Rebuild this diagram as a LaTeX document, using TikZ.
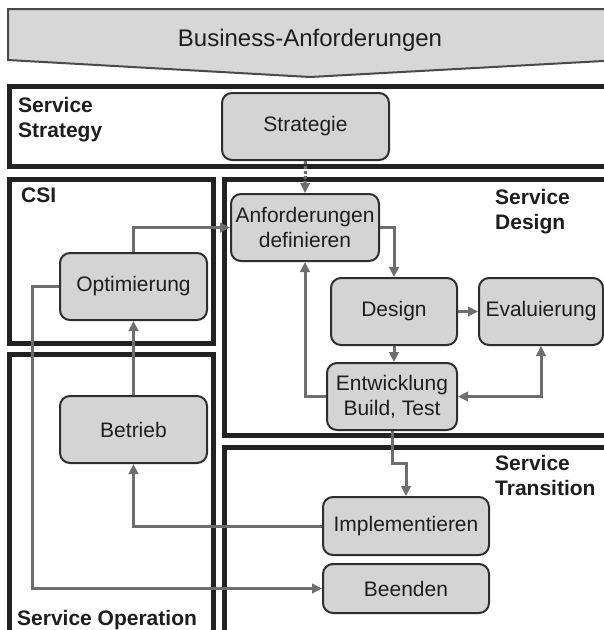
\documentclass[tikz,border=0pt]{standalone}
\usepackage{fontspec}
\setmainfont{Liberation Sans}
\usetikzlibrary{arrows.meta}
\definecolor{nodefill}{HTML}{D4D4D4}
\definecolor{nodeline}{HTML}{2E2E2E}
\definecolor{boxline}{HTML}{222222}
\definecolor{conn}{HTML}{6E6E6E}
\definecolor{txt}{HTML}{1E1E1E}
\definecolor{banfill}{HTML}{D7D7D7}
\definecolor{banline}{HTML}{4A4A4A}
\tikzset{
  proc/.style={draw=nodeline, fill=nodefill, line width=2pt, rounded corners=10pt,
    inner sep=0pt, align=center, text=txt,
    font=\fontsize{21}{25}\selectfont},
  area/.style={draw=boxline, line width=4.5pt},
  arealabel/.style={anchor=base west, inner sep=0pt, align=left, text=txt,
    font=\fontsize{21}{25}\selectfont\bfseries},
  flow/.style={draw=conn, line width=3pt, -{Triangle[length=10pt,width=9.5pt]}},
}
\begin{document}
\begin{tikzpicture}[x=1pt,y=-1pt]
\useasboundingbox (0,0) rectangle (604,630);
\clip (0,0) rectangle (604,630);
% banner
\path[fill=banfill, draw=banline, line width=2pt] (8,9) -- (640,9) -- (640,59) -- (310,77) -- (8,60) -- cycle;
\node[text=txt, font=\fontsize{24}{28}\selectfont] (banner) at (310,40) {Business-Anforderungen};
% areas
\draw[area] (9.5,86.5) rectangle (640,166.5);
\draw[area] (9.5,179.5) rectangle (213.5,343.5);
\draw[area] (224.5,179.5) rectangle (640,435.5);
\draw[area] (9.5,354.5) rectangle (213.5,660);
\draw[area] (224.5,447.5) rectangle (640,660);
\node[arealabel] (lstrat) at (18,137) {Service\\Strategy};
\node[arealabel] (lcsi) at (21,202) {CSI};
\node[arealabel] (ldes) at (495,229) {Service\\Design};
\node[arealabel] (ltra) at (495,495) {Service\\Transition};
\node[arealabel] (lop) at (17,625) {Service Operation};
% process nodes
\node[proc, minimum width=167pt, minimum height=67pt] (strat) at (305.5,126.5) {Strategie};
\node[proc, minimum width=148pt, minimum height=67pt] (anf) at (305,227.5) {Anforderungen\\definieren};
\node[proc, minimum width=147pt, minimum height=67pt] (opt) at (133.5,286.5) {Optimierung};
\node[proc, minimum width=126pt, minimum height=67pt] (design) at (394,311.5) {Design};
\node[proc, minimum width=124pt, minimum height=67pt] (eval) at (541,311.5) {Evaluierung};
\node[proc, minimum width=130pt, minimum height=67pt] (entw) at (392,396.5) {Entwicklung\\Build, Test};
\node[proc, minimum width=147pt, minimum height=67pt] (betrieb) at (133.5,429.5) {Betrieb};
\node[proc, minimum width=166pt, minimum height=58pt] (impl) at (406,526) {Implementieren};
\node[proc, minimum width=166pt, minimum height=49pt] (beenden) at (406,588.5) {Beenden};
\coordinate (bend) at (0,463);
\coordinate (lx) at (32,0);
% connectors
\draw[flow, dash pattern=on 3pt off 2pt] (strat.south) -- (anf.north);
\draw[flow] (opt.north) |- (anf.west);
\draw[flow] (anf.east) -| (design.north);
\draw[flow] (design.south) -- (design.south |- entw.north);
\draw[flow] (design.east) -- (eval.west);
\draw[flow, {Triangle[length=10pt,width=9.5pt]}-{Triangle[length=10pt,width=9.5pt]}] (entw.east) -| (eval.south);
\draw[flow] (entw.west) -| (anf.south);
\draw[flow] (entw.south) -- (entw.south |- bend) -| (impl.north);
\draw[flow] (impl.west) -| (betrieb.south);
\draw[flow] (betrieb.north) -- (opt.south);
\draw[flow] (opt.west) -- (lx |- opt.west) |- (beenden.west);
\end{tikzpicture}
\end{document}
